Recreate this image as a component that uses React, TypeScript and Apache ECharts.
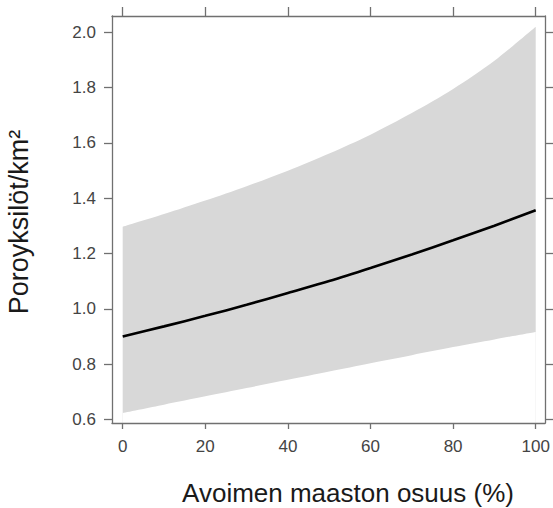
import React, { useEffect, useRef } from "react";
import * as echarts from "echarts";

// Data
const xValues = [0, 10, 20, 30, 40, 50, 60, 70, 80, 90, 100];
const fitted = [0.9, 0.937, 0.975, 1.015, 1.058, 1.101, 1.148, 1.197, 1.248, 1.301, 1.357];
const upper = [1.297, 1.343, 1.392, 1.444, 1.5, 1.562, 1.63, 1.708, 1.795, 1.897, 2.02];
const lower = [0.624, 0.654, 0.684, 0.714, 0.744, 0.774, 0.804, 0.833, 0.862, 0.89, 0.917];

const xTicks = [0, 20, 40, 60, 80, 100];
const yTicks = [0.6, 0.8, 1.0, 1.2, 1.4, 1.6, 1.8, 2.0];

const xTitle = "Avoimen maaston osuus (%)";
const yTitle = "Poroyksilöt/km²";

const FONT = "'Liberation Sans', Arial, Helvetica, sans-serif";
const AXIS_COLOR = "#707070";
const LABEL_COLOR = "#444444";
const BAND_COLOR = "#d8d8d8";

export default function App() {
  const ref = useRef<HTMLDivElement>(null);

  useEffect(() => {
    if (!ref.current) return;
    const chart = echarts.init(ref.current, null, { renderer: "svg" });

    const axisLine = { show: true, onZero: false, lineStyle: { color: AXIS_COLOR, width: 1.3 } };

    const option: any = {
      animation: false,
      backgroundColor: "#ffffff",
      grid: { left: 112, right: 8, top: 16, bottom: 85, containLabel: false },
      xAxis: [
        {
          type: "value",
          position: "bottom",
          z: 10,
          min: -2.59,
          max: 102.25,
          axisLine,
          axisTick: { show: true, customValues: xTicks, length: 6, lineStyle: { color: AXIS_COLOR, width: 1.3 } },
          axisLabel: {
            show: true,
            customValues: xTicks,
            margin: 15,
            color: LABEL_COLOR,
            fontSize: 17,
            fontFamily: FONT,
          },
          splitLine: { show: false },
        },
        {
          type: "value",
          position: "top",
          z: 10,
          min: -2.59,
          max: 102.25,
          axisLine,
          axisTick: { show: true, customValues: xTicks, length: 9, lineStyle: { color: AXIS_COLOR, width: 1.3 } },
          axisLabel: { show: false },
          splitLine: { show: false },
        },
      ],
      yAxis: [
        {
          type: "value",
          position: "left",
          z: 10,
          min: 0.5877,
          max: 2.059,
          axisLine,
          axisTick: { show: true, customValues: yTicks, length: 8, lineStyle: { color: AXIS_COLOR, width: 1.3 } },
          axisLabel: {
            show: true,
            customValues: yTicks,
            margin: 16,
            color: LABEL_COLOR,
            fontSize: 17,
            fontFamily: FONT,
            formatter: (v: number) => v.toFixed(1),
          },
          splitLine: { show: false },
        },
        {
          type: "value",
          position: "right",
          z: 10,
          min: 0.5877,
          max: 2.059,
          axisLine,
          axisTick: { show: true, customValues: yTicks, length: 9, lineStyle: { color: AXIS_COLOR, width: 1.3 } },
          axisLabel: { show: false },
          splitLine: { show: false },
        },
      ],
      series: [
        {
          type: "line",
          name: "upper",
          xAxisIndex: 0,
          yAxisIndex: 0,
          data: xValues.map((x, i) => [x, upper[i]]),
          symbol: "none",
          smooth: 0.3,
          lineStyle: { width: 0, opacity: 0 },
          areaStyle: { color: BAND_COLOR, opacity: 1, origin: "start" },
          silent: true,
          z: 1,
        },
        {
          type: "line",
          name: "lower",
          xAxisIndex: 0,
          yAxisIndex: 0,
          data: xValues.map((x, i) => [x, lower[i]]),
          symbol: "none",
          smooth: 0.3,
          lineStyle: { width: 0, opacity: 0 },
          areaStyle: { color: "#ffffff", opacity: 1, origin: "start" },
          silent: true,
          z: 2,
        },
        {
          type: "line",
          name: "fitted",
          xAxisIndex: 0,
          yAxisIndex: 0,
          data: xValues.map((x, i) => [x, fitted[i]]),
          symbol: "none",
          smooth: 0.3,
          lineStyle: { color: "#000000", width: 2.6 },
          z: 3,
        },
      ],
      graphic: [
        {
          type: "text",
          x: 348,
          y: 492.5,
          style: {
            text: xTitle,
            fontSize: 26,
            fontFamily: FONT,
            fill: "#1a1a1a",
            align: "center",
            verticalAlign: "middle",
          },
        },
        {
          type: "text",
          x: 19,
          y: 222,
          rotation: Math.PI / 2,
          style: {
            text: yTitle,
            fontSize: 27,
            fontFamily: FONT,
            fill: "#1a1a1a",
            align: "center",
            verticalAlign: "middle",
          },
        },
      ],
    };

    chart.setOption(option);
    return () => chart.dispose();
  }, []);

  return (
    <div
      ref={ref}
      style={{ position: "absolute", left: 0, top: 0, width: 553, height: 508 }}
    />
  );
}
